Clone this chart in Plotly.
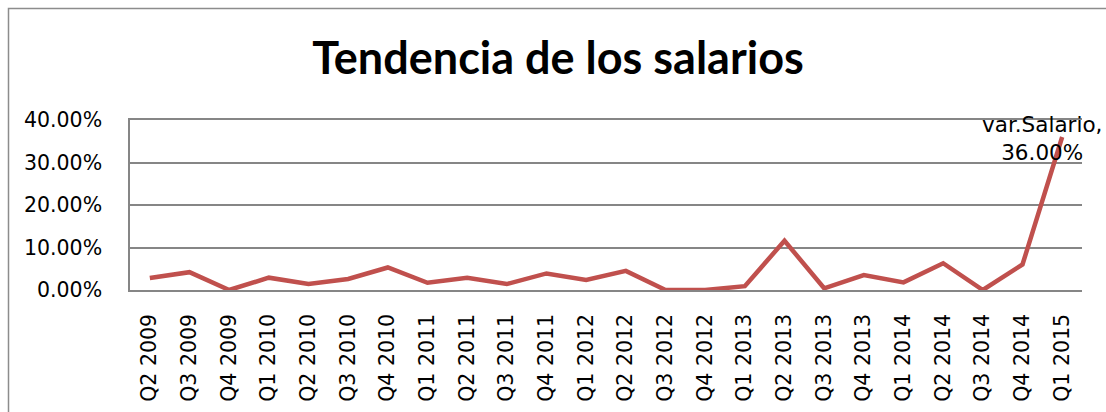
import plotly.graph_objects as go

categories = ["Q2 2009", "Q3 2009", "Q4 2009", "Q1 2010", "Q2 2010", "Q3 2010", "Q4 2010",
              "Q1 2011", "Q2 2011", "Q3 2011", "Q4 2011", "Q1 2012", "Q2 2012", "Q3 2012",
              "Q4 2012", "Q1 2013", "Q2 2013", "Q3 2013", "Q4 2013", "Q1 2014", "Q2 2014",
              "Q3 2014", "Q4 2014", "Q1 2015"]
var_salario = [0.028, 0.042, 0.0, 0.029, 0.014, 0.026, 0.053,
               0.017, 0.029, 0.014, 0.039, 0.0235, 0.045, 0.0,
               0.0, 0.009, 0.116, 0.004, 0.035, 0.018, 0.063,
               0.0, 0.060, 0.36]
y_ticks = [0.0, 0.1, 0.2, 0.3, 0.4]
y_tick_labels = ["0.00%", "10.00%", "20.00%", "30.00%", "40.00%"]
series_name = "var.Salario"
title_text = "Tendencia de los salarios"

FONT = "DejaVu Sans"
TITLE_FONT = "Lato"
GRID = "#868686"

W, H = 1106, 412
L, R, T, B = 130, 24, 120, 122
PW, PH = W - L - R, H - T - B
BORDER_X, BORDER_Y = 8.5, 8.5

fig = go.Figure()
fig.add_trace(go.Scatter(
    x=categories, y=var_salario, mode="lines", name=series_name,
    line=dict(color="#C0504D", width=4.5), cliponaxis=False,
))

fig.add_annotation(
    x=categories[-1], y=var_salario[-1],
    text=f"{series_name},<br>{var_salario[-1]*100:.2f}%",
    showarrow=False, xanchor="center", yanchor="middle", align="center",
    xshift=-20, yshift=-1,
    font=dict(family=FONT, size=21.5, color="#000000"),
)

# chart area border (extends past the right and bottom edges of the picture)
fig.add_shape(type="rect", xref="paper", yref="paper",
              x0=-(L - BORDER_X) / PW, x1=(W + 40 - L) / PW,
              y0=-(B + 40) / PH, y1=1 + (T - BORDER_Y) / PH,
              line=dict(color="#8c8c8c", width=1.5), fillcolor="rgba(0,0,0,0)", layer="below")

fig.update_layout(
    width=W, height=H,
    margin=dict(l=L, r=R, t=T, b=B, autoexpand=False),
    paper_bgcolor="white", plot_bgcolor="white",
    showlegend=False,
    title=dict(text=f"<b>{title_text}</b>", xref="container", yref="container",
               x=558 / W, y=1 - 58 / H, xanchor="center", yanchor="middle",
               font=dict(family=TITLE_FONT, size=45, color="#000000")),
    font=dict(family=FONT, size=20, color="#000000"),
)
fig.update_xaxes(
    type="category", range=[-0.5, len(categories) - 0.5], tickangle=-90, showgrid=False,
    showline=True, mirror=True, linecolor=GRID, linewidth=1.5, ticks="",
    tickfont=dict(family=FONT, size=20.5, color="#000000"),
    ticklabelstandoff=14, automargin=False,
)
fig.update_yaxes(
    range=[0, 0.4], tickvals=y_ticks, ticktext=y_tick_labels,
    showgrid=True, gridcolor=GRID, gridwidth=1.5,
    showline=True, linecolor=GRID, linewidth=1.5, zeroline=False, ticks="",
    tickfont=dict(family=FONT, size=20.5, color="#000000"),
    ticklabelstandoff=22, automargin=False,
)

fig.write_html(
    "out.html",
    config={"displayModeBar": False},
    post_script="document.body.style.margin='0';document.body.style.overflow='hidden';",
)
